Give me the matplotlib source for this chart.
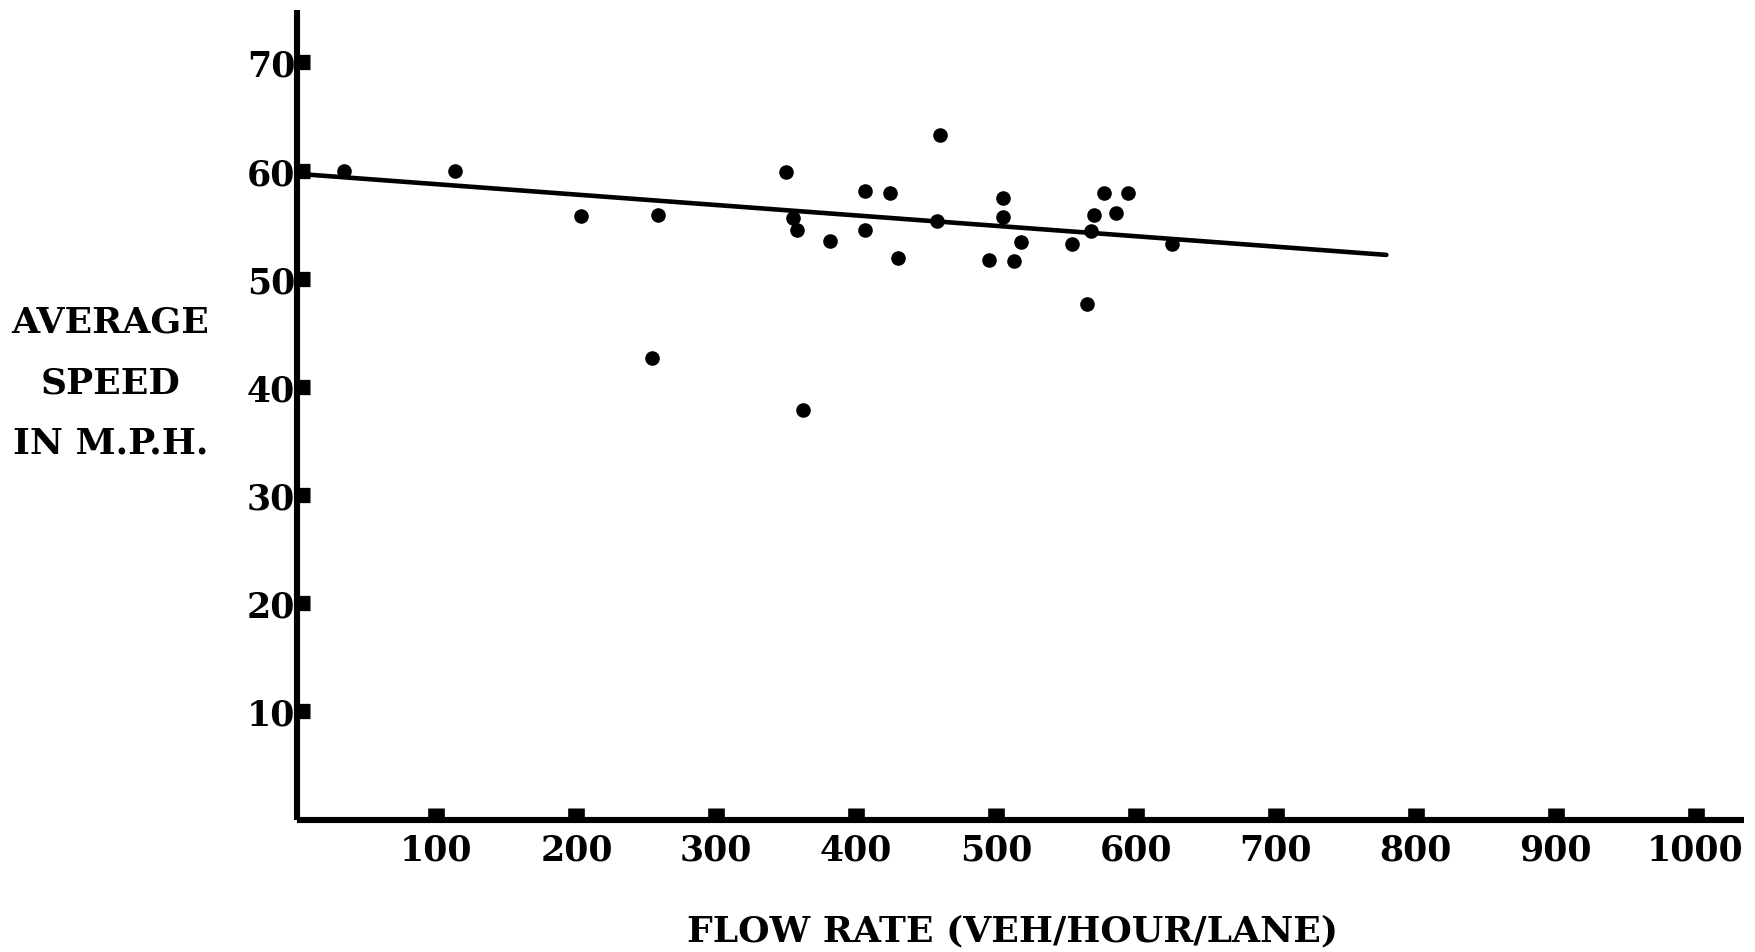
import matplotlib
matplotlib.use("Agg")
import matplotlib.pyplot as plt

# flow rate (veh/hour/lane) and average speed (mph)
flow = [34, 113, 203, 258, 254, 350, 355, 358, 362, 381, 406, 406, 424, 430,
        460, 458, 495, 505, 505, 513, 518, 554, 565, 568, 570, 577, 586, 594, 626]
speed = [60.0, 60.0, 55.8, 55.9, 42.7, 59.9, 55.6, 54.5, 37.9, 53.5, 58.1, 54.5,
         57.9, 51.9, 63.3, 55.3, 51.7, 57.5, 55.7, 51.6, 53.4, 53.2, 47.7, 54.4,
         55.9, 57.9, 56.1, 57.9, 53.2]

# fitted line end points
fit_flow = [0, 779]
fit_speed = [59.7, 52.2]

x_ticks = [100, 200, 300, 400, 500, 600, 700, 800, 900, 1000]
y_ticks = [10, 20, 30, 40, 50, 60, 70]

font = "DejaVu Serif"

fig = plt.figure(figsize=(17.55, 9.53), dpi=100)
ax = fig.add_axes([0.169, 0.139, 0.825, 0.849])

ax.scatter(flow, speed, s=90, color="black", zorder=3)
ax.plot(fit_flow, fit_speed, color="black", linewidth=3.3, solid_capstyle="round")

ax.set_xlim(0, 1035)
ax.set_ylim(0, 74.8)

for side in ["top", "right"]:
    ax.spines[side].set_visible(False)
for side in ["left", "bottom"]:
    ax.spines[side].set_linewidth(4.4)
    ax.spines[side].set_capstyle("butt")

ax.set_xticks(x_ticks)
ax.set_yticks(y_ticks)
ax.tick_params(axis="x", direction="in", length=9, width=12, pad=9)
ax.tick_params(axis="y", direction="in", length=9, width=11, pad=1)

for lbl in ax.get_xticklabels() + ax.get_yticklabels():
    lbl.set_fontfamily(font)
    lbl.set_fontweight("bold")
    lbl.set_fontsize(25)

fig.text(0.063, 0.598, "AVERAGE\nSPEED\nIN M.P.H.", ha="center", va="center",
         fontsize=26, fontweight="bold", family=font, linespacing=1.98)
fig.text(0.577, 0.023, "FLOW RATE (VEH/HOUR/LANE)", ha="center", va="center",
         fontsize=26, fontweight="bold", family=font)

fig.savefig("out.png", dpi=100, facecolor="white")
